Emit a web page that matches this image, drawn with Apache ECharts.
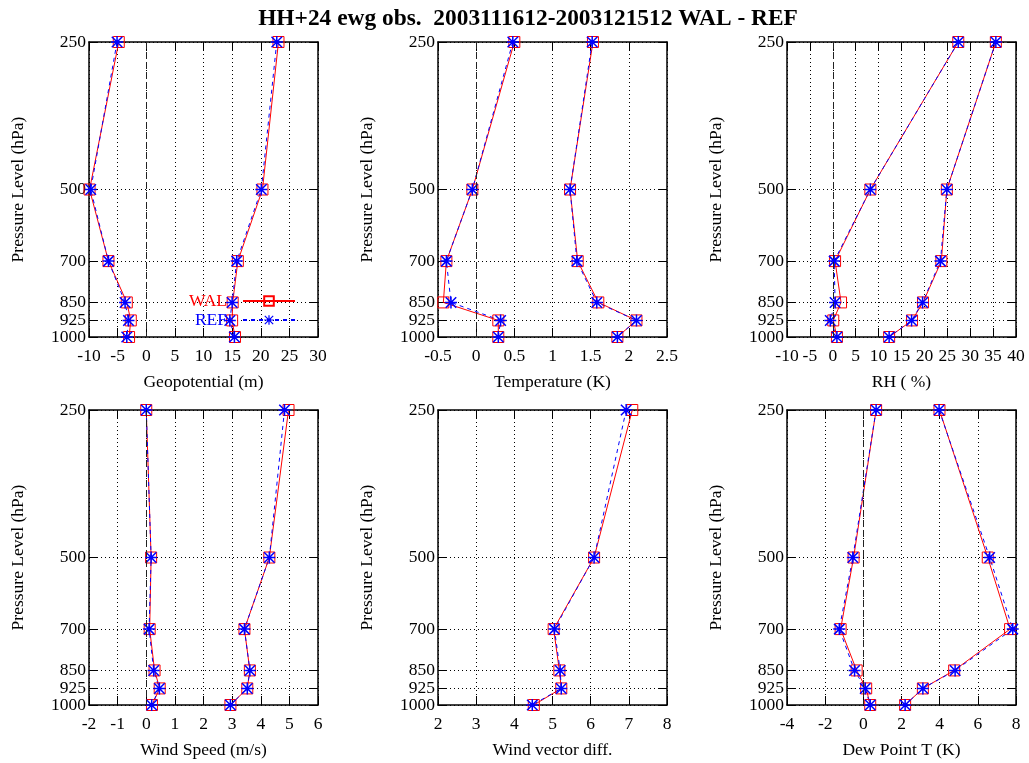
<!DOCTYPE html>
<html><head><meta charset="utf-8">
<script src="https://cdn.jsdelivr.net/npm/echarts@6/dist/echarts.min.js"></script>
<style>html,body{margin:0;padding:0;background:#fff}#c{width:1029px;height:763px}</style>
</head><body><div id="c"></div>
<script>
// Pressure levels (hPa) and tick labels
const levels = [250, 500, 700, 850, 925, 1000];
const levelTicks = [250, 500, 700, 850, 925, 1000];
// labels split in two sets so that the close 925/1000 pair is never auto-hidden
const levelLabelsA = [250, 500, 700, 850, 1000];
const levelLabelsB = [925];

// Geopotential (m): bias (left pair) and rms (right pair)
const geoBiasWAL = [-4.8, -9.9, -6.6, -3.4, -2.7, -3.0];
const geoBiasREF = [-5.1, -9.7, -6.6, -3.7, -3.1, -3.4];
const geoRmsWAL  = [23.1, 20.3, 16.0, 15.1, 15.0, 15.5];
const geoRmsREF  = [22.8, 20.1, 15.8, 15.0, 14.6, 15.4];
// Temperature (K)
const tBiasWAL = [0.50, -0.05, -0.39, -0.43, 0.29, 0.29];
const tBiasREF = [0.48, -0.05, -0.39, -0.33, 0.32, 0.29];
const tRmsWAL  = [1.53, 1.23, 1.33, 1.60, 2.10, 1.85];
const tRmsREF  = [1.52, 1.23, 1.32, 1.58, 2.10, 1.85];
// RH (%)
const rhBiasWAL = [27.4, 8.2, 0.5, 1.8, 0.1, 0.9];
const rhBiasREF = [27.4, 8.2, 0.3, 0.5, -0.55, 0.9];
const rhRmsWAL  = [35.6, 24.9, 23.7, 19.7, 17.3, 12.3];
const rhRmsREF  = [35.6, 24.9, 23.5, 19.6, 17.2, 12.3];
// Wind speed (m/s)
const wsBiasWAL = [0.0, 0.17, 0.12, 0.29, 0.47, 0.20];
const wsBiasREF = [0.0, 0.17, 0.10, 0.26, 0.46, 0.19];
const wsRmsWAL  = [4.97, 4.30, 3.43, 3.62, 3.53, 2.94];
const wsRmsREF  = [4.83, 4.30, 3.43, 3.62, 3.53, 2.94];
// Wind vector difference
const wvdWAL = [7.09, 6.09, 5.03, 5.18, 5.23, 4.51];
const wvdREF = [6.93, 6.09, 5.05, 5.20, 5.23, 4.47];
// Dew point T (K)
const tdBiasWAL = [0.67, -0.51, -1.19, -0.35, 0.15, 0.36];
const tdBiasREF = [0.67, -0.55, -1.26, -0.46, 0.10, 0.36];
const tdRmsWAL  = [3.99, 6.52, 7.69, 4.76, 3.12, 2.19];
const tdRmsREF  = [3.97, 6.62, 7.83, 4.81, 3.12, 2.19];

// Axis labels and ranges
const xNames = ['Geopotential (m)', 'Temperature (K)', 'RH ( %)', 'Wind Speed (m/s)', 'Wind vector diff.', 'Dew Point T (K)'];
const xMins = [-10, -0.5, -10, -2, 2, -4];
const xMaxs = [30, 2.5, 40, 6, 8, 8];
const xSteps = [5, 0.5, 5, 1, 1, 2];
const yName = 'Pressure Level (hPa)';
const titleText = 'HH+24 ewg obs.  2003111612-2003121512 WAL - REF';

const panelData = [
  [[geoBiasWAL, geoBiasREF], [geoRmsWAL, geoRmsREF]],
  [[tBiasWAL, tBiasREF], [tRmsWAL, tRmsREF]],
  [[rhBiasWAL, rhBiasREF], [rhRmsWAL, rhRmsREF]],
  [[wsBiasWAL, wsBiasREF], [wsRmsWAL, wsRmsREF]],
  [[wvdWAL, wvdREF]],
  [[tdBiasWAL, tdBiasREF], [tdRmsWAL, tdRmsREF]]
];

const FONT = 'Liberation Serif';
const FS = 17.5;
const STAR = 'path://M0 10.5H24V13.5H0Z M10.5 0H13.5V24H10.5Z M2.56 0.44L23.56 21.44L21.44 23.56L0.44 2.56Z M21.44 0.44L23.56 2.56L2.56 23.56L0.44 21.44Z';
const lefts = [89, 438, 787];
const tops = [42, 410];

const grids = [], xAxes = [], yAxes = [], series = [];
for (let i = 0; i < 6; i++) {
  const gl = lefts[i % 3], gt = tops[Math.floor(i / 3)];
  grids.push({ left: gl, top: gt, width: 229, height: 295, show: false });
  const frame = { show: true, onZero: false, lineStyle: { color: '#000', width: 1.5 } };
  const tick = { show: true, inside: true, length: 9, lineStyle: { color: '#000', width: 1 } };
  const yLab = (vals) => ({ customValues: vals, margin: 3, color: '#000', fontFamily: FONT, fontSize: FS,
      showMinLabel: true, showMaxLabel: true, hideOverlap: false,
      formatter: v => String(Math.round(v)) });
  xAxes.push({
    gridIndex: i, type: 'value', position: 'bottom', min: xMins[i], max: xMaxs[i], interval: xSteps[i],
    axisLine: frame, axisTick: tick,
    axisLabel: { margin: 10, color: '#000', fontFamily: FONT, fontSize: FS, showMinLabel: true, showMaxLabel: true, hideOverlap: false },
    splitLine: { show: true, lineStyle: { color: '#000', width: 1, type: [1, 3] } },
    name: xNames[i], nameLocation: 'middle', nameGap: 36,
    nameTextStyle: { color: '#000', fontFamily: FONT, fontSize: FS }
  });
  xAxes.push({
    gridIndex: i, type: 'value', position: 'top', min: xMins[i], max: xMaxs[i], interval: xSteps[i],
    axisLine: frame, axisTick: tick, axisLabel: { show: false }, splitLine: { show: false }
  });
  yAxes.push({
    gridIndex: i, type: 'log', logBase: 10, position: 'left', min: 250, max: 1000, inverse: true,
    axisLine: frame, axisTick: Object.assign({ customValues: levelTicks }, tick),
    axisLabel: yLab(levelLabelsA),
    splitLine: { show: true, lineStyle: { color: '#000', width: 1, type: [1, 3] } },
    name: yName, nameLocation: 'middle', nameGap: 62, nameRotate: 90,
    nameTextStyle: { color: '#000', fontFamily: FONT, fontSize: FS }
  });
  yAxes.push({
    gridIndex: i, type: 'log', logBase: 10, position: 'right', min: 250, max: 1000, inverse: true,
    axisLine: frame, axisTick: Object.assign({ customValues: levelTicks }, tick),
    axisLabel: { show: false }, splitLine: { show: false }
  });
  yAxes.push({
    gridIndex: i, type: 'log', logBase: 10, position: 'left', min: 250, max: 1000, inverse: true,
    axisLine: { show: false, onZero: false }, axisTick: { show: false, customValues: levelLabelsB },
    axisLabel: yLab(levelLabelsB), splitLine: { show: false }
  });
  panelData[i].forEach((pair, j) => {
    const wal = {
      type: 'line', name: 'WAL', xAxisIndex: 2 * i, yAxisIndex: 3 * i,
      data: levels.map((p, k) => [pair[0][k], p]),
      symbol: 'rect', symbolSize: 11,
      itemStyle: { color: 'rgba(255,255,255,0)', borderColor: '#ff0000', borderWidth: 1 },
      lineStyle: { color: '#ff0000', width: 1, type: 'solid' },
      emphasis: { disabled: true }, animation: false, silent: true
    };
    if (j === 0 && xMins[i] < 0 && xMaxs[i] > 0) {
      wal.markLine = {
        silent: true, symbol: ['none', 'none'], label: { show: false },
        lineStyle: { color: '#222', width: 1, type: [7, 3] },
        data: [{ xAxis: 0 }], animation: false
      };
    }
    series.push(wal);
    series.push({
      type: 'line', name: 'REF', xAxisIndex: 2 * i, yAxisIndex: 3 * i,
      data: levels.map((p, k) => [pair[1][k], p]),
      symbol: STAR, symbolSize: 12,
      itemStyle: { color: '#0000ff' },
      lineStyle: { color: '#0000ff', width: 1, type: [4, 4] },
      emphasis: { disabled: true }, animation: false, silent: true
    });
  });
}

const chart = echarts.init(document.getElementById('c'), null, { renderer: 'canvas' });
chart.setOption({
  backgroundColor: '#fff',
  animation: false,
  title: {
    text: titleText, left: 528, top: 7, padding: 0, textAlign: 'center',
    textStyle: { fontFamily: FONT, fontSize: 23.4, fontWeight: 'bold', color: '#000' }
  },
  legend: {
    data: [{ name: 'WAL', textStyle: { color: '#ff0000' } }, { name: 'REF', textStyle: { color: '#0000ff' } }],
    orient: 'vertical', align: 'right', right: 733, top: 291.5, padding: 0,
    itemWidth: 52, itemHeight: 12, itemGap: 0, selectedMode: false,
    textStyle: { fontFamily: FONT, fontSize: FS, lineHeight: 19, padding: [0, 11, 0, 0] }
  },
  grid: grids, xAxis: xAxes, yAxis: yAxes, series: series
});
</script></body></html>
